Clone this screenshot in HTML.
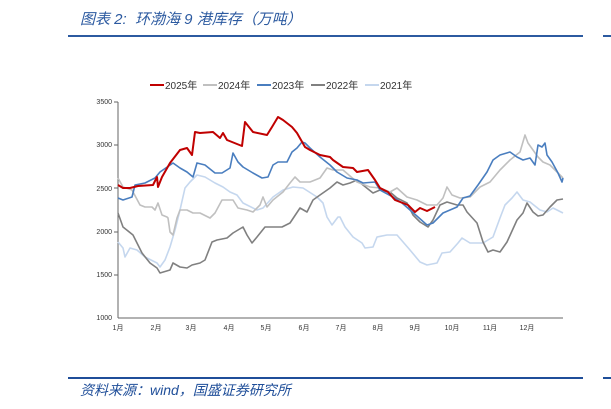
<html><head><style>
body{margin:0;width:611px;height:409px;background:#fff;overflow:hidden;font-family:"Liberation Sans","Noto Sans CJK SC",sans-serif}
.t{position:absolute;left:80px;top:8px;font-size:15px;color:#2c5aa0;font-style:italic}
.s{position:absolute;left:80px;top:380px;font-size:14px;color:#1f4e99;font-style:italic}
</style></head><body>
<div class="t">图表 2:&nbsp; 环渤海 9 港库存（万吨）</div>
<div class="s">资料来源：wind，国盛证券研究所</div>
<svg width="611" height="409" style="position:absolute;left:0;top:0" font-family="Liberation Sans,Noto Sans CJK SC,sans-serif">
<line x1="68" y1="36" x2="583" y2="36" stroke="#2c5aa0" stroke-width="2"/>
<line x1="603" y1="36" x2="611" y2="36" stroke="#2c5aa0" stroke-width="2"/>
<line x1="68" y1="378" x2="583" y2="378" stroke="#1f4e99" stroke-width="2"/>
<line x1="603" y1="378" x2="611" y2="378" stroke="#1f4e99" stroke-width="2"/>
<g font-size="10" fill="#333">
<line x1="150" y1="85" x2="164" y2="85" stroke="#c00000" stroke-width="2"/><text x="165" y="89">2025年</text>
<line x1="203" y1="85" x2="217" y2="85" stroke="#c0c0c0" stroke-width="2"/><text x="218" y="89">2024年</text>
<line x1="257" y1="85" x2="271" y2="85" stroke="#4a7ebf" stroke-width="2"/><text x="272" y="89">2023年</text>
<line x1="311" y1="85" x2="325" y2="85" stroke="#808080" stroke-width="2"/><text x="326" y="89">2022年</text>
<line x1="365" y1="85" x2="379" y2="85" stroke="#c5d7ee" stroke-width="2"/><text x="380" y="89">2021年</text>
</g>
<g font-size="7" fill="#333" text-anchor="end">
<text x="112" y="104">3500</text><text x="112" y="147">3000</text><text x="112" y="191">2500</text><text x="112" y="234">2000</text><text x="112" y="277">1500</text><text x="112" y="320">1000</text>
</g>
<line x1="118" y1="102" x2="118" y2="318" stroke="#666" stroke-width="1"/>
<line x1="118" y1="318" x2="563" y2="318" stroke="#666" stroke-width="1"/>
<g stroke="#666"><line x1="114" y1="102" x2="118" y2="102"/><line x1="114" y1="145" x2="118" y2="145"/><line x1="114" y1="188" x2="118" y2="188"/><line x1="114" y1="232" x2="118" y2="232"/><line x1="114" y1="275" x2="118" y2="275"/></g>
<g font-size="7" fill="#333" text-anchor="middle">
<text x="118" y="330">1月</text><text x="156" y="330">2月</text><text x="191" y="330">3月</text><text x="229" y="330">4月</text><text x="266" y="330">5月</text><text x="304" y="330">6月</text><text x="341" y="330">7月</text><text x="378" y="330">8月</text><text x="415" y="330">9月</text><text x="452" y="330">10月</text><text x="490" y="330">11月</text><text x="527" y="330">12月</text>
</g>
<g fill="none" stroke-width="1.6" stroke-linejoin="round">
<polyline stroke="#c5d7ee" points="118,242 123,248 125,257 130,248 137,250 145,257 157,263 160,267 165,260 170,247 175,230 180,210 185,188 190,182 197,175 205,177 215,183 223,187 230,192 237,195 243,203 257,210 263,208 273,197 283,190 293,187 303,188 317,197 323,203 327,217 332,225 338,217 340,217 345,227 353,237 362,243 365,248 373,247 377,237 387,235 397,235 410,250 420,262 427,265 437,263 442,253 450,252 458,243 462,238 470,243 483,243 493,237 500,218 505,205 512,198 517,192 523,200 530,202 540,210 547,212 553,208 563,213"/>
<polyline stroke="#808080" points="118,213 123,227 133,235 142,253 150,263 157,268 160,273 170,270 173,263 180,267 187,268 192,265 200,263 205,260 212,242 217,240 227,238 233,233 243,227 247,235 252,243 257,237 265,227 272,227 282,227 290,223 300,208 307,212 313,200 320,195 330,188 337,182 343,185 350,183 357,180 363,185 373,193 380,190 390,192 397,198 407,203 413,215 420,222 428,227 433,220 440,205 447,202 457,205 463,205 467,212 477,223 483,242 488,252 493,250 500,252 507,242 517,220 523,213 527,203 533,212 538,216 543,215 550,207 557,200 563,199"/>
<polyline stroke="#c0c0c0" points="118,178 123,187 132,190 140,205 145,207 152,207 155,210 158,203 162,215 167,217 168,218 170,232 173,235 177,218 180,210 187,210 193,213 200,213 210,218 215,213 222,200 233,200 238,208 247,210 253,212 260,205 263,197 267,207 273,200 283,192 290,183 295,177 300,182 310,182 320,178 327,168 333,170 343,170 357,182 370,187 380,188 390,192 397,188 407,197 417,200 427,205 437,205 443,198 447,187 452,195 460,198 470,197 480,187 490,182 500,170 510,160 520,152 525,135 528,143 533,150 538,157 543,162 550,165 560,175 563,178"/>
<polyline stroke="#4a7ebf" points="118,198 123,200 132,197 135,185 145,183 155,178 160,172 173,163 180,168 187,172 193,177 197,163 205,165 215,173 222,173 230,168 233,153 238,162 243,167 253,173 262,178 268,177 273,165 278,162 287,162 292,152 297,148 302,142 305,143 310,148 320,157 330,165 337,172 347,178 357,180 363,183 375,182 380,190 393,197 402,203 410,210 418,217 427,225 433,223 443,213 457,207 463,198 470,196 478,185 487,172 493,160 500,155 510,152 517,157 523,160 530,158 535,165 538,145 542,147 545,143 547,155 552,162 558,173 562,182 563,178"/>
<polyline stroke="#c00000" stroke-width="2" points="118,185 123,188 130,188 138,186 153,185 157,177 158,187 162,177 170,163 180,150 187,148 192,155 195,132 200,133 213,132 220,138 223,133 227,140 242,146 245,122 253,132 267,135 272,127 278,117 283,120 292,127 297,133 305,147 310,150 320,155 330,157 333,160 343,167 353,168 357,172 368,170 375,180 380,188 388,192 395,200 408,205 415,212 420,208 427,211 435,207"/>
</g>
</svg>
</body></html>
